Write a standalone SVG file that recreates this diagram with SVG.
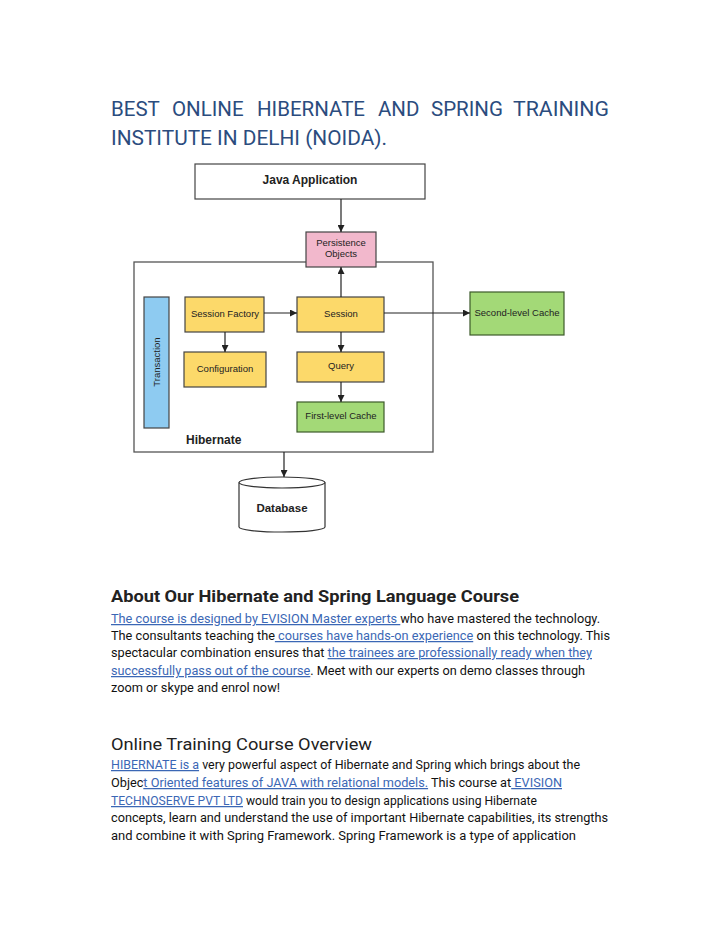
<svg xmlns="http://www.w3.org/2000/svg" width="720" height="931" viewBox="0 0 720 931">
<defs>
<marker id="arr" viewBox="0 0 10 10" refX="10" refY="5" markerWidth="7" markerHeight="7" markerUnits="userSpaceOnUse" orient="auto">
<path d="M0,0 L10,5 L0,10 z" fill="#222"/>
</marker>
<style>
.title{font-family:Roboto,"Liberation Sans",sans-serif;font-size:20.5px;fill:#2b4c7e}
.box{stroke:#444;stroke-width:1.2}
.yel{fill:#fcd96a}
.grn{fill:#a3d977;stroke:#3c5a2a}
.lbl{font-family:"Liberation Sans",Arial,sans-serif;font-size:9.5px;fill:#222;text-anchor:middle}
.bold{font-family:"Liberation Sans",Arial,sans-serif;font-weight:bold;fill:#222}
.conn{stroke:#222;stroke-width:1.2;fill:none;marker-end:url(#arr)}
.h2{font-family:Roboto,"Liberation Sans",sans-serif;font-size:17px;font-weight:bold;fill:#222}
.h3{font-family:Roboto,"Liberation Sans",sans-serif;font-size:17px;fill:#222}
.body{font-family:Roboto,"Liberation Sans",sans-serif;font-size:12.5px;fill:#111}
.lnk{fill:#3b67b5;text-decoration:underline}
</style>
</defs>
<rect width="720" height="931" fill="#fff"/>

<g id="title">
<text class="title" x="111" y="116">BEST</text>
<text class="title" x="172" y="116">ONLINE</text>
<text class="title" x="257" y="116">HIBERNATE</text>
<text class="title" x="378" y="116">AND</text>
<text class="title" x="431" y="116">SPRING</text>
<text class="title" x="513" y="116" textLength="96" lengthAdjust="spacingAndGlyphs">TRAINING</text>
<text class="title" x="111" y="145" textLength="276" lengthAdjust="spacingAndGlyphs">INSTITUTE IN DELHI (NOIDA).</text>
</g>

<g id="hibernate">
<rect x="134" y="262" width="299" height="190" fill="#fff" stroke="#555" stroke-width="1.3"/>
<text class="bold" x="186" y="444" font-size="12">Hibernate</text>
</g>

<g id="java-application">
<rect x="195" y="164" width="230" height="35" fill="#fff" class="box"/>
<text class="bold" x="310" y="184" font-size="12" text-anchor="middle">Java Application</text>
</g>

<g id="persistence-objects">
<rect x="306" y="232" width="70" height="35" fill="#f2b8cc" class="box"/>
<text class="lbl" x="341" y="246">Persistence</text>
<text class="lbl" x="341" y="257">Objects</text>
</g>

<g id="transaction">
<rect x="144" y="297" width="25" height="131" fill="#8ecbf1" class="box"/>
<text class="lbl" transform="translate(159.5,362) rotate(-90)" x="0" y="0" fill="#223">Transaction</text>
</g>

<g id="session-factory">
<rect x="185" y="297" width="79" height="35" class="box yel"/>
<text class="lbl" x="225" y="317">Session Factory</text>
</g>

<g id="session">
<rect x="297" y="297" width="87" height="35" class="box yel"/>
<text class="lbl" x="341" y="317">Session</text>
</g>

<g id="configuration">
<rect x="184" y="352" width="82" height="35" class="box yel"/>
<text class="lbl" x="225" y="372">Configuration</text>
</g>

<g id="query">
<rect x="297" y="352" width="87" height="30" class="box yel"/>
<text class="lbl" x="341" y="369">Query</text>
</g>

<g id="first-level-cache">
<rect x="297" y="402" width="87" height="30" class="box grn"/>
<text class="lbl" x="341" y="419">First-level Cache</text>
</g>

<g id="second-level-cache">
<rect x="470" y="292" width="94" height="43" class="box grn"/>
<text class="lbl" x="517" y="316">Second-level Cache</text>
</g>

<g id="database">
<path d="M239,482.5 L239,527 A43,5 0 0 0 325,527 L325,482.5" fill="#fff" stroke="#333" stroke-width="1.2"/>
<ellipse cx="282" cy="482.5" rx="43" ry="5.5" fill="#fff" stroke="#333" stroke-width="1.2"/>
<text class="bold" x="282" y="512" font-size="11.5" text-anchor="middle">Database</text>
</g>

<g id="connectors">
<line class="conn" x1="341" y1="199" x2="341" y2="232"/>
<line class="conn" x1="341" y1="297" x2="341" y2="267"/>
<line class="conn" x1="264" y1="313" x2="297" y2="313"/>
<line class="conn" x1="384" y1="313" x2="470" y2="313"/>
<line class="conn" x1="225" y1="332" x2="225" y2="352"/>
<line class="conn" x1="341" y1="332" x2="341" y2="352"/>
<line class="conn" x1="341" y1="382" x2="341" y2="402"/>
<line class="conn" x1="284" y1="452" x2="284" y2="477"/>
</g>

<g id="about">
<text class="h2" x="111" y="602" textLength="408" lengthAdjust="spacingAndGlyphs">About Our Hibernate and Spring Language Course</text>
<text class="body" x="111" y="623" textLength="489" lengthAdjust="spacingAndGlyphs"><tspan class="lnk">The course is designed by EVISION Master experts </tspan>who have mastered the technology.</text>
<text class="body" x="111" y="640" textLength="499" lengthAdjust="spacingAndGlyphs">The consultants teaching the<tspan class="lnk"> courses have hands-on experience</tspan> on this technology. This</text>
<text class="body" x="111" y="657" textLength="481" lengthAdjust="spacingAndGlyphs">spectacular combination ensures that <tspan class="lnk">the trainees are professionally ready when they</tspan></text>
<text class="body" x="111" y="675" textLength="474" lengthAdjust="spacingAndGlyphs"><tspan class="lnk">successfully pass out of the course</tspan>. Meet with our experts on demo classes through</text>
<text class="body" x="111" y="692" textLength="169" lengthAdjust="spacingAndGlyphs">zoom or skype and enrol now!</text>
</g>

<g id="overview">
<text class="h3" x="111" y="750" textLength="261" lengthAdjust="spacingAndGlyphs">Online Training Course Overview</text>
<text class="body" x="111" y="769" textLength="469" lengthAdjust="spacingAndGlyphs"><tspan class="lnk">HIBERNATE is a</tspan> very powerful aspect of Hibernate and Spring which brings about the</text>
<text class="body" x="111" y="787" textLength="451" lengthAdjust="spacingAndGlyphs">Objec<tspan class="lnk">t Oriented features of JAVA with relational models.</tspan> This course at<tspan class="lnk"> EVISION</tspan></text>
<text class="body" x="111" y="805" textLength="426" lengthAdjust="spacingAndGlyphs"><tspan class="lnk">TECHNOSERVE PVT LTD</tspan> would train you to design applications using Hibernate</text>
<text class="body" x="111" y="822" textLength="497" lengthAdjust="spacingAndGlyphs">concepts, learn and understand the use of important Hibernate capabilities, its strengths</text>
<text class="body" x="111" y="840" textLength="465" lengthAdjust="spacingAndGlyphs">and combine it with Spring Framework. Spring Framework is a type of application</text>
</g>
</svg>
